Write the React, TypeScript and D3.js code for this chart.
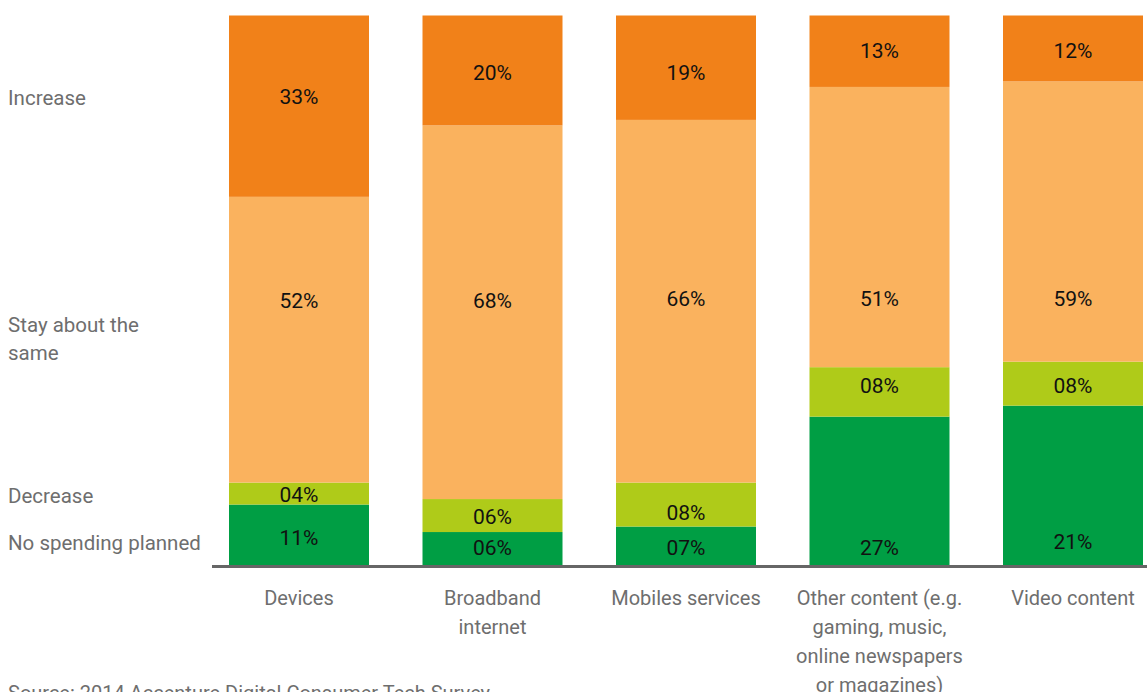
import React from "react";
import * as d3 from "d3";

const categories = ["Devices", "Broadband internet", "Mobiles services", "Other content (e.g. gaming, music, online newspapers or magazines)", "Video content"];
const categoryLines = [["Devices"], ["Broadband", "internet"], ["Mobiles services"], ["Other content (e.g.", "gaming, music,", "online newspapers", "or magazines)"], ["Video content"]];

const seriesNames = ["No spending planned", "Decrease", "Stay about the same", "Increase"];

// segment heights as drawn in the picture (percent)
const noSpending = [11, 6, 7, 27, 29];
const decrease = [4, 6, 8, 9, 8];
const stayTheSame = [52, 68, 66, 51, 51];
const increase = [33, 20, 19, 13, 12];

// printed labels
const noSpendingLabels = ["11%", "06%", "07%", "27%", "21%"];
const decreaseLabels = ["04%", "06%", "08%", "08%", "08%"];
const stayLabels = ["52%", "68%", "66%", "51%", "59%"];
const increaseLabels = ["33%", "20%", "19%", "13%", "12%"];

// label anchor positions (percent on the value axis)
const noSpendingLabelAt = [5, 3.1, 3.1, 3.1, 4.2];
const decreaseLabelAt = [12.8, 8.7, 9.5, 32.5, 32.5];
const stayLabelAt = [48, 48, 48.4, 48.4, 48.4];
const increaseLabelAt = [85.2, 89.5, 89.5, 93.5, 93.5];

const leftLabels = [["Increase"], ["Stay about the", "same"], ["Decrease"], ["No spending planned"]];
const leftLabelAt = [83.7, 42.4, 11.3, 2.7];

const source = "Source: 2014 Accenture Digital Consumer Tech Survey";

const colors = ["#009E44", "#AFCB19", "#FAB25E", "#F18119"];

export default function App() {
  const W = 1147, H = 692;
  const x = d3.scaleBand<string>().domain(categories).range([229, 1143]).paddingInner(0.2765).paddingOuter(0);
  const y = d3.scaleLinear().domain([0, 100]).range([565, 15.5]);

  const series = [noSpending, decrease, stayTheSame, increase];
  const labels = [noSpendingLabels, decreaseLabels, stayLabels, increaseLabels];
  const labelAt = [noSpendingLabelAt, decreaseLabelAt, stayLabelAt, increaseLabelAt];

  const table = categories.map((c, i) => {
    const row: any = { cat: c };
    seriesNames.forEach((s, j) => (row[s] = series[j][i]));
    return row;
  });
  const stacked = d3.stack<any>().keys(seriesNames)(table);

  const gray = "#6e6e6e";
  const font = "Roboto, 'Noto Sans', sans-serif";

  return (
    <svg width={W} height={H} style={{ position: "absolute", left: 0, top: 0, background: "#fff" }}>
      {stacked.map((layer, j) => (
        <g key={j} fill={colors[j]}>
          {layer.map((d, i) => (
            <rect key={i} x={x(categories[i])} y={y(d[1])} width={x.bandwidth()} height={y(d[0]) - y(d[1])} />
          ))}
        </g>
      ))}
      {labels.map((ls, j) => (
        <g key={j}>
          {ls.map((t, i) => (
            <text key={i} x={(x(categories[i]) as number) + x.bandwidth() / 2} y={y(labelAt[j][i])} textAnchor="middle" dominantBaseline="central" fontFamily={font} fontSize={21} fill="#111">
              {t}
            </text>
          ))}
        </g>
      ))}
      <line x1={212} x2={W} y1={y(0) + 1.5} y2={y(0) + 1.5} stroke="#666" strokeWidth={3} />
      {categoryLines.map((lines, i) => (
        <text key={i} x={(x(categories[i]) as number) + x.bandwidth() / 2} y={605} textAnchor="middle" fontFamily={font} fontSize={20} fill={gray}>
          {lines.map((l, k) => (
            <tspan key={k} x={(x(categories[i]) as number) + x.bandwidth() / 2} dy={k === 0 ? 0 : 29}>{l}</tspan>
          ))}
        </text>
      ))}
      {leftLabels.map((lines, i) => (
        <text key={i} x={8} y={y(leftLabelAt[i])} fontFamily={font} fontSize={20.5} fill={gray}>
          {lines.map((l, k) => (
            <tspan key={k} x={8} dy={k === 0 ? 0 : 28}>{l}</tspan>
          ))}
        </text>
      ))}
      <text x={8} y={700} fontFamily={font} fontSize={20} fill={gray}>{source}</text>
    </svg>
  );
}
